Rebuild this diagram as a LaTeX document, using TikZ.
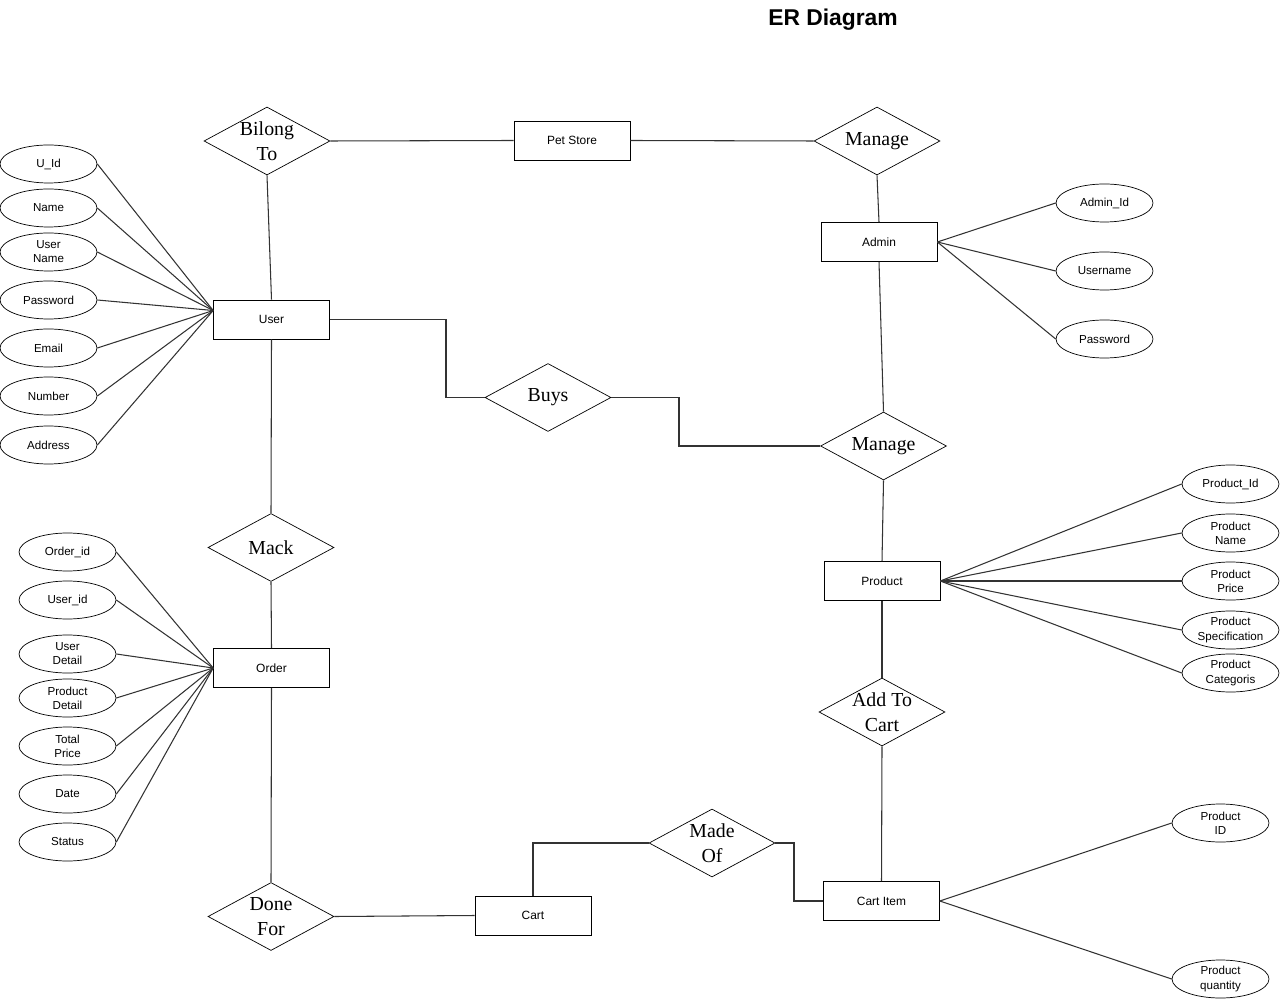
\documentclass[tikz,border=0pt]{standalone}
\usepackage{fontspec}
\setmainfont{Liberation Serif}
\setsansfont{Liberation Sans}
\usepackage{tikz}
\usetikzlibrary{shapes.geometric, calc}

\begin{document}
\begin{tikzpicture}[
  x=0.02cm, y=-0.02cm,
  ent/.style={draw, rectangle, font=\sffamily\fontsize{6.8}{8}\selectfont,
              minimum width=2.32cm, minimum height=0.78cm, inner sep=0pt},
  rel/.style={draw, diamond, minimum width=2.52cm, minimum height=1.36cm, inner sep=0pt},
  rtxt/.style={font=\fontsize{11.3}{14}\selectfont, align=center, inner sep=0pt},
  att/.style={draw, ellipse, font=\sffamily\fontsize{6.6}{8}\selectfont, align=center,
              minimum width=1.94cm, minimum height=0.76cm, inner sep=0pt},
  ln/.style={line width=0.6pt, black!80},
]
\useasboundingbox (0,0) rectangle (1280,999);

\node[font=\sffamily\bfseries\fontsize{13}{15}\selectfont] (title) at (833,20) {ER Diagram};

% ENTITIES
\node[ent] (petstore) at (572,140.5) {Pet Store};
\node[ent] (user)     at (271.5,319.5) {User};
\node[ent] (admin)    at (879,242) {Admin};
\node[ent] (product)  at (882,581) {Product};
\node[ent] (order)    at (271.5,668) {Order};
\node[ent] (cart)     at (533,915.5) {Cart};
\node[ent] (cartitem) at (881.5,901) {Cart Item};

% RELATIONSHIPS
\node[rel, label={[rtxt]center:Bilong\\To}]   (bilong)  at (267,141) {};
\node[rel, label={[rtxt]center:Manage}]       (manage1) at (877,141) {};
\node[rel, label={[rtxt]center:Buys}]         (buys)    at (548,397.5) {};
\node[rel, label={[rtxt]center:Manage}]       (manage2) at (883.5,446) {};
\node[rel, label={[rtxt]center:Mack}]         (mack)    at (271,547.5) {};
\node[rel, label={[rtxt]center:Add To\\Cart}] (addcart) at (882,712) {};
\node[rel, label={[rtxt]center:Made\\Of}]     (madeof)  at (712,843) {};
\node[rel, label={[rtxt]center:Done\\For}]    (donefor) at (271,916.5) {};

% USER ATTRIBUTES
\node[att] (uid)    at (48.5,164) {U\_Id};
\node[att] (uname)  at (48.5,208) {Name};
\node[att] (uuser)  at (48.5,252) {User\\Name};
\node[att] (upass)  at (48.5,300) {Password};
\node[att] (umail)  at (48.5,348) {Email};
\node[att] (unum)   at (48.5,396) {Number};
\node[att] (uaddr)  at (48.5,445) {Address};
\coordinate (uw) at ($(user.west)+(0,-9)$);

% ORDER ATTRIBUTES
\node[att] (oid)    at (67.5,552) {Order\_id};
\node[att] (ouid)   at (67.5,600) {User\_id};
\node[att] (oudet)  at (67.5,654) {User\\Detail};
\node[att] (opdet)  at (67.5,698) {Product\\Detail};
\node[att] (oprice) at (67.5,746) {Total\\Price};
\node[att] (odate)  at (67.5,794) {Date};
\node[att] (ostat)  at (67.5,842) {Status};

% ADMIN ATTRIBUTES
\node[att] (aid)    at (1104.5,203) {Admin\_Id};
\node[att] (auser)  at (1104.5,271) {Username};
\node[att] (apass)  at (1104.5,339) {Password};

% PRODUCT ATTRIBUTES
\node[att] (pid)    at (1230.5,484) {Product\_Id};
\node[att] (pname)  at (1230.5,533) {Product\\Name};
\node[att] (pprice) at (1230.5,581) {Product\\Price};
\node[att] (pspec)  at (1230.5,630) {Product\\Specification};
\node[att] (pcat)   at (1230.5,673) {Product\\Categoris};

% CART ITEM ATTRIBUTES
\node[att] (cpid)   at (1220.5,823) {Product\\ID};
\node[att] (cqty)   at (1220.5,979) {Product\\quantity};

% ATTRIBUTE LINKS
\draw[ln] (uid.east) -- (uw);
\draw[ln] (uname.east) -- (uw);
\draw[ln] (uuser.east) -- (uw);
\draw[ln] (upass.east) -- (uw);
\draw[ln] (umail.east) -- (uw);
\draw[ln] (unum.east) -- (uw);
\draw[ln] (uaddr.east) -- (uw);

\draw[ln] (oid.east) -- (order.west);
\draw[ln] (ouid.east) -- (order.west);
\draw[ln] (oudet.east) -- (order.west);
\draw[ln] (opdet.east) -- (order.west);
\draw[ln] (oprice.east) -- (order.west);
\draw[ln] (odate.east) -- (order.west);
\draw[ln] (ostat.east) -- (order.west);

\draw[ln] (admin.east) -- (aid.west);
\draw[ln] (admin.east) -- (auser.west);
\draw[ln] (admin.east) -- (apass.west);

\draw[ln] (product.east) -- (pid.west);
\draw[ln] (product.east) -- (pname.west);
\draw[ln] (product.east) -- (pprice.west);
\draw[ln] (product.east) -- (pspec.west);
\draw[ln] (product.east) -- (pcat.west);

\draw[ln] (cartitem.east) -- (cpid.west);
\draw[ln] (cartitem.east) -- (cqty.west);

% RELATIONSHIP LINKS
\draw[ln] (bilong.east) -- (petstore.west);
\draw[ln] (petstore.east) -- (manage1.west);
\draw[ln] (bilong.south) -- (user.north);
\draw[ln] (manage1.south) -- (admin.north);
\draw[ln] (admin.south) -- (manage2.north);
\draw[ln] (user.east) -| (446,397.5) -- (buys.west);
\draw[ln] (buys.east) -| (679,446) -- (manage2.west);
\draw[ln] (manage2.south) -- (product.north);
\draw[ln] (product.south) -- (addcart.north);
\draw[ln] (addcart.south) -- (cartitem.north);
\draw[ln] (user.south) -- (mack.north);
\draw[ln] (mack.south) -- (order.north);
\draw[ln] (order.south) -- (donefor.north);
\draw[ln] (donefor.east) -- (cart.west);
\draw[ln] (cart.north) |- (madeof.west);
\draw[ln] (madeof.east) -- (794,843) |- (cartitem.west);

\end{tikzpicture}
\end{document}
